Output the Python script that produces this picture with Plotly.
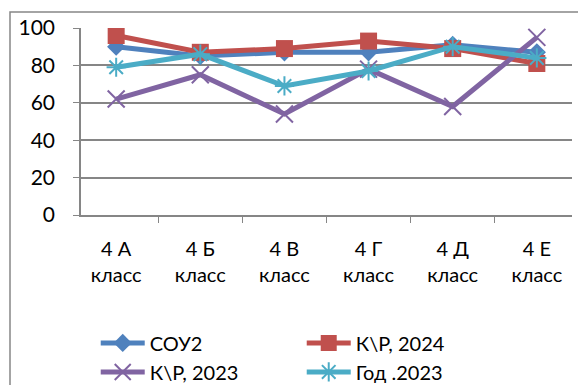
import plotly.graph_objects as go

# данные
classes = ["4 А<br>класс", "4 Б<br>класс", "4 В<br>класс", "4 Г<br>класс", "4 Д<br>класс", "4 Е<br>класс"]
sou2 = [90, 85, 87, 87, 91, 87]
kr_2024 = [96, 87, 89, 93, 89, 81]
kr_2023 = [62, 75, 54, 78, 58, 95]
god_2023 = [79, 86, 69, 77, 90, 84]

series = [
    ("СОУ2", sou2, "#4F81BD", dict(symbol="diamond", size=14)),
    ("К\\Р, 2024", kr_2024, "#C0504D", dict(symbol="square", size=17)),
    ("К\\Р, 2023", kr_2023, "#8064A2", dict(symbol="x-thin-open", size=17, line=dict(width=2, color="#8064A2"))),
    ("Год .2023", god_2023, "#4BACC6", dict(symbol="asterisk-open", size=16, line=dict(width=2, color="#4BACC6"))),
]

fig = go.Figure()
for name, vals, color, marker in series:
    fig.add_trace(go.Scatter(
        x=classes, y=vals, name=name, mode="lines+markers",
        line=dict(color=color, width=5),
        marker=dict(color=color, **marker),
    ))

grey = "#868686"
# страница имеет отступ 8px, поэтому фигура чуть меньше окна
fig.update_layout(
    width=578, height=377,
    margin=dict(l=73, r=14, t=20, b=170, autoexpand=False),
    paper_bgcolor="white", plot_bgcolor="white",
    font=dict(family="Lato, 'Noto Sans', sans-serif", color="black"),
    showlegend=True,
    legend=dict(orientation="h", x=0.03, xanchor="left", y=-0.58, yanchor="top",
                entrywidth=147, entrywidthmode="pixels", font=dict(size=20),
                tracegroupgap=0, itemwidth=44),
    shapes=[dict(type="rect", xref="paper", yref="paper",
                 x0=-71 / 491, x1=1.2, y0=-2, y1=1 + 16 / 187,
                 line=dict(color=grey, width=1.5))],
)
fig.update_yaxes(range=[0, 100], dtick=20, showgrid=True, gridcolor=grey, gridwidth=1.5,
                 showline=True, linecolor=grey, linewidth=1.5, ticks="outside",
                 ticklen=6, tickcolor=grey, tickfont=dict(size=21), zeroline=False,
                 ticklabelstandoff=14)
fig.update_xaxes(showline=True, linecolor=grey, linewidth=1.5, ticks="outside",
                 tickson="boundaries", ticklen=6, tickcolor=grey,
                 tickfont=dict(size=20), showgrid=False, ticklabelstandoff=15)

fig.write_html("out.html")
